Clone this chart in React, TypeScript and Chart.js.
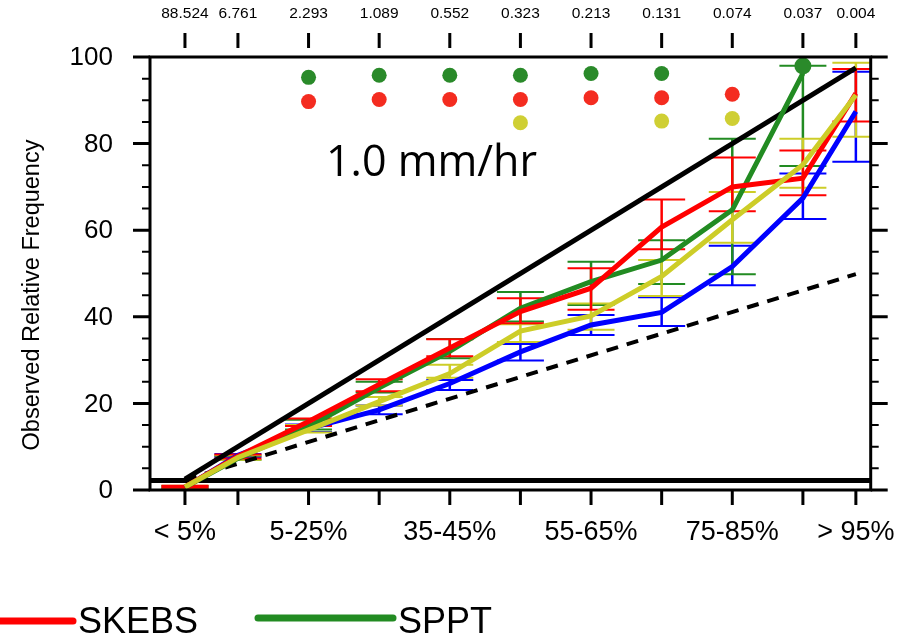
import React, { useEffect, useRef } from 'react';
import { Chart, registerables } from 'chart.js';

Chart.register(...registerables);

// ---------- data ----------
const binCenters = [2.5, 10, 20, 30, 40, 50, 60, 70, 80, 90, 97.5];
const topTickLabels = ['88.524', '6.761', '2.293', '1.089', '0.552', '0.323', '0.213', '0.131', '0.074', '0.037', '0.004'];
const bottomTickLabels = ['< 5%', '', '5-25%', '', '35-45%', '', '55-65%', '', '75-85%', '', '> 95%'];
const yTickValues = [0, 20, 40, 60, 80, 100];

const skebs = [0.7, 7.8, 15.8, 24.4, 32.8, 41.2, 46.6, 60.7, 70.0, 72.0, 91.6];
const skebsLo = [0.5, 7.3, 14.8, 22.8, 30.9, 38.5, 41.6, 55.6, 64.4, 68.1, 85.1];
const skebsHi = [1.0, 8.2, 16.5, 25.6, 34.8, 44.3, 51.2, 67.1, 76.8, 78.4, 97.2];

const sppt = [0.6, 7.3, 14.6, 23.6, 32.0, 42.0, 48.1, 53.1, 64.7, 96.2, null];
const spptLo = [0.4, 7.0, 14.0, 22.5, 30.4, 38.9, 42.7, 47.6, 49.8, 74.8, null];
const spptHi = [0.9, 7.9, 16.2, 25.0, 34.9, 45.7, 52.7, 57.7, 81.1, 98.0, null];

const yellowSeries = [0.7, 7.5, 13.9, 20.4, 26.9, 36.7, 40.2, 49.3, 62.4, 75.1, 91.2];
const yellowLo = [0.5, 7.0, 13.3, 19.5, 25.9, 34.2, 37.0, 44.8, 57.1, 69.8, 81.6];
const yellowHi = [1.0, 8.0, 15.0, 21.5, 28.9, 38.3, 43.1, 53.1, 68.8, 81.1, 98.7];

const blueSeries = [0.6, 8.0, 14.2, 18.5, 24.6, 31.9, 38.1, 41.0, 51.6, 67.4, 87.4];
const blueLo = [0.4, 7.6, 13.4, 17.5, 23.1, 29.9, 35.8, 37.9, 47.3, 62.6, 75.8];
const blueHi = [0.9, 8.3, 15.1, 19.5, 25.4, 33.7, 40.4, 44.5, 56.4, 73.1, 96.6];

// significance dots
const greenDots = [null, null, 95.3, 95.8, 95.8, 95.8, 96.2, 96.2, null, 97.9, null];
const redDots = [null, null, 89.7, 90.2, 90.2, 90.2, 90.6, 90.6, 91.4, null, null];
const yellowDots = [null, null, null, null, null, 84.8, null, 85.2, 85.8, null, null];

// reference lines
const perfectX = [2.5, 97.5];
const perfectY = [2.5, 97.5];
const noSkillX = [2.5, 97.5];
const noSkillY = [2.35, 49.85];
const climX = [-2.5, 100];
const climY = [2.2, 2.2];

const annotationText = '1.0 mm/hr';
const legendItems = [
  { label: 'SKEBS', color: '#ff0000' },
  { label: 'SPPT', color: '#228b22' },
];

// ---------- colours ----------
const RED = '#ff0000';
const GREEN = '#228b22';
const YELLOW = '#cdcd28';
const BLUE = '#0000ff';

const toPts = (xs: number[], ys: (number | null)[]) =>
  xs.map((x, i) => ({ x, y: ys[i] }));

const errorSeries = [
  { lo: blueLo, hi: blueHi, color: BLUE },
  { lo: spptLo, hi: spptHi, color: GREEN },
  { lo: yellowLo, hi: yellowHi, color: YELLOW },
  { lo: skebsLo, hi: skebsHi, color: RED },
];

const errorBarPlugin = {
  id: 'errorBars',
  beforeDatasetsDraw(chart: any) {
    const { ctx, chartArea, scales } = chart;
    const x = scales.x;
    const y = scales.y;
    ctx.save();
    ctx.beginPath();
    ctx.rect(chartArea.left, chartArea.top, chartArea.right - chartArea.left, chartArea.bottom - chartArea.top);
    ctx.clip();
    for (const s of errorSeries) {
      ctx.strokeStyle = s.color;
      for (let i = 0; i < binCenters.length; i++) {
        const lo = s.lo[i];
        const hi = s.hi[i];
        if (lo == null || hi == null) continue;
        const px = x.getPixelForValue(binCenters[i]);
        const pLo = y.getPixelForValue(lo);
        const pHi = y.getPixelForValue(hi);
        ctx.lineWidth = 2.5;
        ctx.beginPath();
        ctx.moveTo(px, pLo);
        ctx.lineTo(px, pHi);
        ctx.stroke();
        ctx.lineWidth = 2;
        ctx.beginPath();
        ctx.moveTo(px - 23.5, pLo);
        ctx.lineTo(px + 23.5, pLo);
        ctx.moveTo(px - 23.5, pHi);
        ctx.lineTo(px + 23.5, pHi);
        ctx.stroke();
      }
    }
    ctx.restore();
  },
};

const axesPlugin = {
  id: 'customAxes',
  afterDraw(chart: any) {
    const { ctx, chartArea, scales } = chart;
    const x = scales.x;
    const y = scales.y;
    const { left, right, top, bottom } = chartArea;
    ctx.save();
    ctx.strokeStyle = '#000';
    ctx.fillStyle = '#000';

    // frame
    ctx.lineWidth = 3;
    ctx.strokeRect(left, top, right - left, bottom - top);

    // y ticks (both sides)
    for (let v = 0; v <= 100; v += 5) {
      const major = v % 20 === 0;
      const len = major ? 17 : 8;
      const py = y.getPixelForValue(v);
      ctx.lineWidth = major ? 3 : 2;
      ctx.beginPath();
      ctx.moveTo(left - len, py);
      ctx.lineTo(left, py);
      ctx.moveTo(right, py);
      ctx.lineTo(right + len, py);
      ctx.stroke();
    }

    // y tick labels
    ctx.font = '26px "Liberation Sans", Arial, sans-serif';
    ctx.textAlign = 'right';
    ctx.textBaseline = 'middle';
    for (const v of yTickValues) {
      ctx.fillText(String(v), 113, y.getPixelForValue(v) + 1);
    }

    // y title
    ctx.save();
    ctx.translate(33, 295);
    ctx.rotate(-Math.PI / 2);
    ctx.textAlign = 'center';
    ctx.textBaseline = 'middle';
    ctx.font = '23.5px "Liberation Sans", Arial, sans-serif';
    ctx.fillText('Observed Relative Frequency', 0, 0);
    ctx.restore();

    // bottom ticks and labels
    ctx.lineWidth = 3;
    ctx.font = '27px "Liberation Sans", Arial, sans-serif';
    ctx.textAlign = 'center';
    ctx.textBaseline = 'middle';
    binCenters.forEach((v, i) => {
      const px = x.getPixelForValue(v);
      ctx.beginPath();
      ctx.moveTo(px, bottom);
      ctx.lineTo(px, bottom + 15);
      ctx.stroke();
      if (bottomTickLabels[i]) ctx.fillText(bottomTickLabels[i], px, bottom + 43);
    });

    // top ticks and labels
    ctx.font = '15.5px "Liberation Sans", Arial, sans-serif';
    binCenters.forEach((v, i) => {
      const px = x.getPixelForValue(v);
      ctx.beginPath();
      ctx.moveTo(px, top - 24);
      ctx.lineTo(px, top - 9);
      ctx.stroke();
      ctx.fillText(topTickLabels[i], px, top - 43);
    });

    // annotation
    ctx.font = '43px "Open Sans", sans-serif';
    ctx.textAlign = 'left';
    ctx.textBaseline = 'alphabetic';
    ctx.fillText(annotationText, left + 176, top + 119);

    // legend
    const legendPos = [
      { x0: -5, x1: 73, ly: 621, tx: 78 },
      { x0: 258, x1: 393, ly: 618, tx: 398 },
    ];
    ctx.font = '36px "Liberation Sans", Arial, sans-serif';
    legendItems.forEach((it, i) => {
      const p = legendPos[i];
      ctx.strokeStyle = it.color;
      ctx.lineWidth = 7;
      ctx.lineCap = 'round';
      ctx.beginPath();
      ctx.moveTo(p.x0, p.ly);
      ctx.lineTo(p.x1, p.ly);
      ctx.stroke();
      ctx.fillStyle = '#000';
      ctx.fillText(it.label, p.tx, 633);
    });

    ctx.restore();
  },
};

export default function App() {
  const canvasRef = useRef<HTMLCanvasElement | null>(null);

  useEffect(() => {
    if (!canvasRef.current) return;
    const lineDs = (label: string, ys: (number | null)[], color: string, width: number) => ({
      type: 'line' as const,
      label,
      data: toPts(binCenters, ys),
      borderColor: color,
      backgroundColor: color,
      borderWidth: width,
      pointRadius: 0,
      tension: 0,
      fill: false,
    });
    const dotDs = (label: string, ys: (number | null)[], color: string) => ({
      type: 'line' as const,
      label,
      data: toPts(binCenters, ys),
      showLine: false,
      pointRadius: (c: any) => (c.dataIndex === 9 ? 8.5 : 7.5),
      pointBackgroundColor: color,
      pointBorderWidth: 0,
      borderColor: color,
      backgroundColor: color,
    });

    const chart = new Chart(canvasRef.current, {
      type: 'line',
      data: {
        datasets: [
          dotDs('greenDots', greenDots, '#2a8a2a'),
          dotDs('redDots', redDots, '#f42c20'),
          dotDs('yellowDots', yellowDots, '#cfcf34'),
          lineDs('Yellow', yellowSeries, YELLOW, 5),
          lineDs('SKEBS', skebs, RED, 5),
          lineDs('SPPT', sppt, GREEN, 5),
          lineDs('Blue', blueSeries, BLUE, 5),
          {
            type: 'line',
            label: 'perfect',
            data: toPts(perfectX, perfectY),
            borderColor: '#000',
            borderWidth: 5,
            pointRadius: 0,
          },
          {
            type: 'line',
            label: 'noskill',
            data: toPts(noSkillX, noSkillY),
            borderColor: '#000',
            borderWidth: 4,
            borderDash: [12, 9],
            pointRadius: 0,
          },
          {
            type: 'line',
            label: 'clim',
            data: toPts(climX, climY),
            borderColor: '#000',
            borderWidth: 5,
            pointRadius: 0,
            clip: 0,
          },
        ] as any,
      },
      options: {
        responsive: false,
        animation: false,
        devicePixelRatio: 1,
        layout: { padding: { left: 150, top: 57, right: 39.3, bottom: 149 } },
        scales: {
          x: { type: 'linear', min: -2.45, max: 99.6, display: false },
          y: { type: 'linear', min: 0, max: 100, display: false },
        },
        plugins: {
          legend: { display: false },
          tooltip: { enabled: false },
        },
        events: [],
      },
      plugins: [errorBarPlugin, axesPlugin],
    } as any);
    return () => chart.destroy();
  }, []);

  return (
    <div style={{ position: 'absolute', left: 0, top: 0, width: 910, height: 639, background: '#fff' }}>
      <canvas ref={canvasRef} width={910} height={639} style={{ display: 'block' }} />
    </div>
  );
}
